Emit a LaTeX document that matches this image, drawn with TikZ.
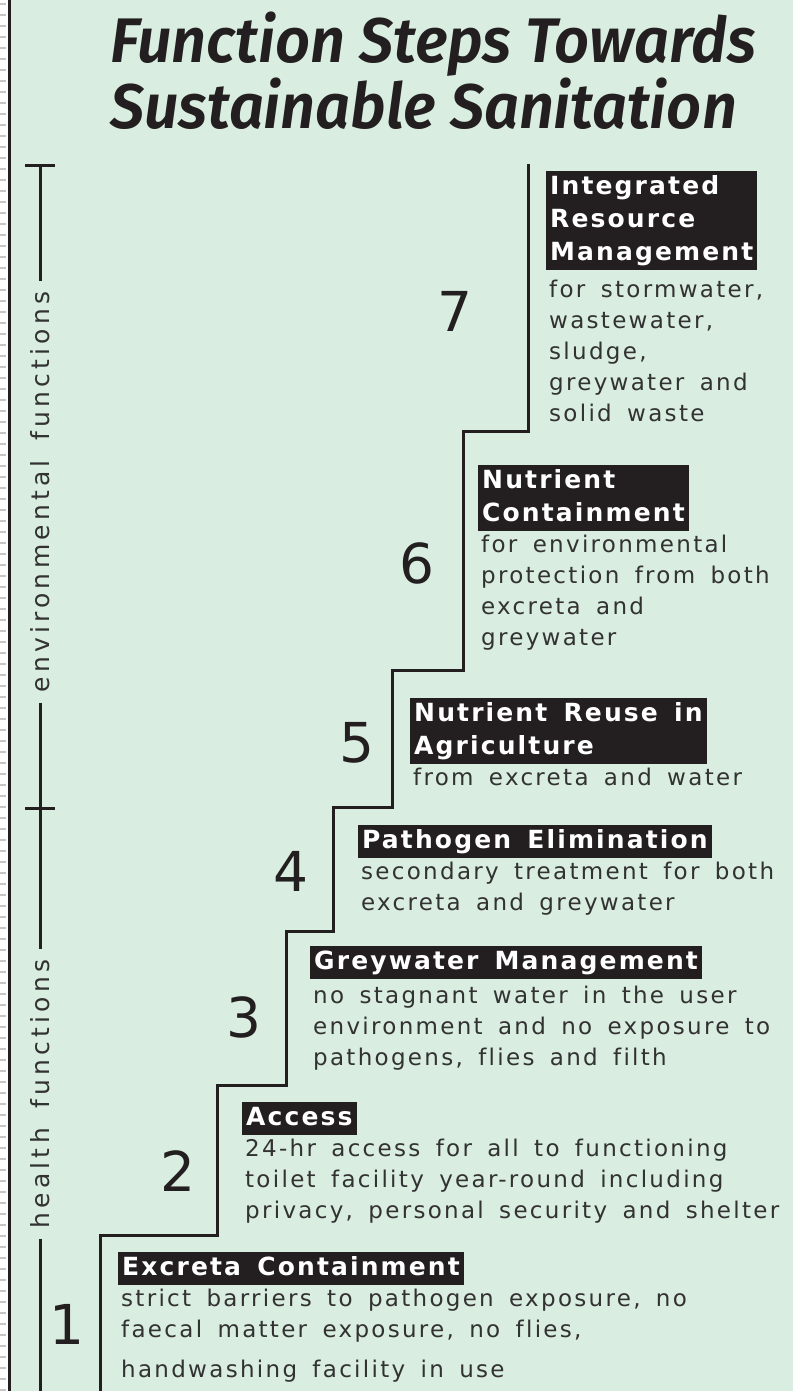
\documentclass[tikz,border=0pt]{standalone}
\usepackage{fontspec}
\setmainfont{DejaVu Sans}
\newfontfamily\titlefont[FakeStretch=0.97,BoldItalicFont={* SemiBold Italic}]{Fira Sans}
\newfontfamily\bodyfont[LetterSpace=10,WordSpace=1.6,Ligatures=NoCommon]{DejaVu Sans}
\newfontfamily\headfont[LetterSpace=8.5,WordSpace=1.5,Ligatures=NoCommon]{DejaVu Sans}
\newfontfamily\axisfont[LetterSpace=17,WordSpace=1.6]{DejaVu Sans}
\newfontfamily\numfont{DejaVu Sans}
\usepackage{tikz}
\usetikzlibrary{positioning}
\definecolor{sanbg}{RGB}{217,237,224}
\definecolor{boxblack}{RGB}{35,31,32}
\definecolor{txtgrey}{RGB}{50,50,50}

\begin{document}
\begin{tikzpicture}[x=1pt,y=-1pt,
title/.style={font=\titlefont\bfseries\itshape\fontsize{63}{55}\selectfont, text=boxblack, align=left, inner sep=0pt, anchor=north west},
head/.style={fill=boxblack, text=white, font=\headfont\bfseries\fontsize{25}{33}\selectfont, align=left, inner xsep=4pt, inner ysep=0pt, anchor=north west},
desc/.style={text=txtgrey, font=\bodyfont\fontsize{23}{31}\selectfont, align=left, inner xsep=3pt, inner ysep=3pt, anchor=north west},
stepnum/.style={text=boxblack, font=\numfont\fontsize{55}{55}\selectfont, inner sep=0pt},
axislabel/.style={rotate=90, text=txtgrey, font=\axisfont\fontsize{25}{25}\selectfont, inner xsep=10pt, inner ysep=0pt},
axis/.style={line width=3pt, draw=boxblack},
stair/.style={line width=3pt, draw=boxblack}]
\useasboundingbox (0,0) rectangle (793,1391);
% frame and background
\fill[sanbg] (0,0) rectangle (793,1391);
\fill[white] (0,0) rectangle (8,1391);
\foreach \y in {4,15,...,1391}
  \draw[gray!45, line width=2pt] (0,\y) -- (6,\y);
\draw[boxblack, line width=3pt] (9.5,0) -- (9.5,1391);

\node[title] (ttl) at (110,12) {Function Steps Towards\\Sustainable Sanitation};

% side axis
\coordinate (envtop) at (40,166);
\coordinate (split) at (40,808);
\coordinate (axbot) at (40,1391);
\node[axislabel] (env) at (40,492) {environmental functions};
\node[axislabel] (health) at (40,1094) {health functions};
\draw[axis] (envtop) -- (env.east) (env.west) -- (split) -- (health.east) (health.west) -- (axbot);
\draw[axis] ([xshift=-15pt]envtop) -- ([xshift=15pt]envtop);
\draw[axis] ([xshift=-15pt]split) -- ([xshift=15pt]split);

% the steps
\draw[stair] (100,1391) |- (217,1235) |- (286,1085) |- (333,931) |- (392,807) |- (463,670) |- (528,431) -- (528,164);

\node[stepnum] (n1) at (67,1324) {1};
\node[stepnum] (n2) at (178,1171) {2};
\node[stepnum] (n3) at (244,1017) {3};
\node[stepnum] (n4) at (291,871) {4};
\node[stepnum] (n5) at (357,743) {5};
\node[stepnum] (n6) at (417,563) {6};
\node[stepnum] (n7) at (455,311) {7};

\node[head] (h7) at (546,171) {\strut Integrated\\\strut Resource\\\strut Management};
\node[desc, yshift=-6pt] (d7) at (h7.south west) {for stormwater,\\wastewater,\\sludge,\\greywater and\\solid waste};

\node[head] (h6) at (478,465) {\strut Nutrient\\\strut Containment};
\node[desc] (d6) at (h6.south west) {for environmental\\protection from both\\excreta and\\greywater};

\node[head] (h5) at (410,698) {\strut Nutrient Reuse in\\\strut Agriculture};
\node[desc] (d5) at (h5.south west) {from excreta and water};

\node[head] (h4) at (358,825) {\strut Pathogen Elimination};
\node[desc] (d4) at (h4.south west) {secondary treatment for both\\excreta and greywater};

\node[head] (h3) at (310,946) {\strut Greywater Management};
\node[desc, yshift=-3pt] (d3) at (h3.south west) {no stagnant water in the user\\environment and no exposure to\\pathogens, flies and filth};

\node[head] (h2) at (242,1102) {\strut Access};
\node[desc] (d2) at (h2.south west) {24-hr access for all to functioning\\toilet facility year-round including\\privacy, personal security and shelter};

\node[head] (h1) at (118,1252) {\strut Excreta Containment};
\node[desc] (d1) at (h1.south west) {strict barriers to pathogen exposure, no\\faecal matter exposure, no flies,\\[9pt]handwashing facility in use};
\end{tikzpicture}
\end{document}
